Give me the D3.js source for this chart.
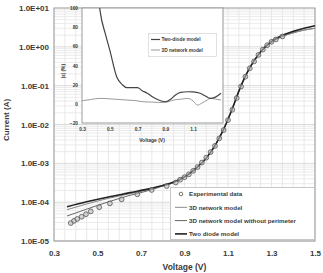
<!DOCTYPE html>
<html>
<head>
<meta charset="utf-8">
<script src="https://cdn.jsdelivr.net/npm/d3@7"></script>
<style>
  body { margin: 0; background: #fff; }
  svg { display: block; font-family: "Liberation Sans", Arial, sans-serif; }
</style>
</head>
<body>
<svg width="323" height="273"></svg>
<script>
// main chart: current vs voltage
var expV = [0.377, 0.392, 0.407, 0.427, 0.447, 0.469, 0.508, 0.557, 0.611, 0.683, 0.749, 0.818,
            0.86, 0.88, 0.90, 0.92, 0.94, 0.96, 0.98, 1.00, 1.02, 1.04, 1.06, 1.08, 1.10, 1.12,
            1.14, 1.16, 1.18, 1.20, 1.22, 1.24, 1.26, 1.28, 1.30, 1.32, 1.35];
var expI = [2.9e-5, 3.3e-5, 3.7e-5, 4.2e-5, 4.9e-5, 5.8e-5, 7.4e-5, 9.3e-5, 1.18e-4, 1.59e-4, 2.06e-4, 2.6e-4,
            3.2e-4, 3.8e-4, 4.4e-4, 5.2e-4, 6.4e-4, 8.0e-4, 1.05e-3, 1.4e-3, 1.95e-3, 2.8e-3, 4.4e-3, 7.2e-3, 0.013, 0.024,
            0.048, 0.095, 0.17, 0.28, 0.42, 0.62, 0.85, 1.1, 1.35, 1.55, 1.85];

var modelV = [0.36, 0.45, 0.55, 0.65, 0.75, 0.80, 0.85, 0.88, 0.92, 0.96, 1.00, 1.04, 1.08, 1.12,
              1.16, 1.20, 1.25, 1.30, 1.35, 1.40, 1.45, 1.50];
var net3dI = [6.4e-5, 9.0e-5, 1.25e-4, 1.65e-4, 2.2e-4, 2.65e-4, 3.2e-4, 3.8e-4, 5.2e-4, 8.0e-4, 1.35e-3, 2.8e-3, 7.5e-3, 0.025,
              0.1, 0.28, 0.72, 1.3, 1.85, 2.3, 2.7, 3.0];
var noPerimI = [4.4e-5, 6.6e-5, 1.02e-4, 1.5e-4, 2.1e-4, 2.6e-4, 3.15e-4, 3.8e-4, 5.2e-4, 8.0e-4, 1.35e-3, 2.8e-3, 7.5e-3, 0.025,
                0.1, 0.28, 0.72, 1.3, 1.85, 2.3, 2.7, 3.0];
var twoDiodeI = [7.6e-5, 1.02e-4, 1.36e-4, 1.76e-4, 2.3e-4, 2.7e-4, 3.3e-4, 3.9e-4, 5.3e-4, 8.1e-4, 1.37e-3, 2.85e-3, 7.6e-3, 0.026,
                 0.1, 0.29, 0.75, 1.38, 1.98, 2.5, 3.0, 3.5];

var yTicks = [1e-5, 1e-4, 1e-3, 1e-2, 1e-1, 1, 10];
var xTicks = [0.3, 0.5, 0.7, 0.9, 1.1, 1.3, 1.5];

// inset: relative error
var errV2d = [0.30, 0.35, 0.40, 0.43, 0.47, 0.50, 0.55, 0.59, 0.62, 0.66, 0.70, 0.73, 0.77, 0.80, 0.84, 0.87, 0.90, 0.94, 0.97, 1.01, 1.06, 1.10, 1.15, 1.19, 1.22, 1.26, 1.30];
var err2d  = [300, 220, 140, 97, 72, 56, 28, 20, 17, 17, 17, 14, 11, 8, 4.7, 3, 2.2, 5, 9, 12, 12.6, 12.5, 11, 8, 5.7, 7, 11];
var errV3d = [0.30, 0.36, 0.43, 0.50, 0.56, 0.62, 0.68, 0.74, 0.80, 0.85, 0.89, 0.93, 0.96, 1.01, 1.06, 1.10, 1.13, 1.16, 1.20, 1.22, 1.26, 1.30];
var err3d  = [3.2, 4.5, 5.7, 5.2, 4.6, 4, 3.4, 2.2, 1.8, 1.5, 1.5, 2.6, 4, 4.8, 5.7, 3, -1.3, 0.5, 4, 5.7, 5, 4];
var insetYTicks = [-20, 0, 20, 40, 60, 80, 100];
var insetXTicks = [0.3, 0.5, 0.7, 0.9, 1.1];

var svg = d3.select("svg");
var txt = "#3a3a3a";

var x = d3.scaleLinear().domain([0.3, 1.5]).range([54, 315]);
var y = d3.scaleLog().domain([1e-5, 10]).range([241, 8]);

// grid
var grid = svg.append("g");
d3.range(0.3, 1.5001, 0.05).forEach(function (v) {
    grid.append("line")
        .attr("x1", x(v)).attr("x2", x(v)).attr("y1", 8).attr("y2", 241)
        .attr("stroke", "#e2e2e2").attr("stroke-width", 0.8);
});
yTicks.slice(0, -1).forEach(function (t) {
    for (var k = 1; k <= 9; k++) {
        grid.append("line")
            .attr("x1", 54).attr("x2", 315).attr("y1", y(t * k)).attr("y2", y(t * k))
            .attr("stroke", k === 1 ? "#d0d0d0" : "#e6e6e6").attr("stroke-width", 0.8);
    }
});

// axes
function expLabel(d) {
    var e = Math.round(Math.log10(d));
    return "1.0E" + (e < 0 ? "-" : "+") + (Math.abs(e) < 10 ? "0" : "") + Math.abs(e);
}
var yAxis = svg.append("g").attr("transform", "translate(54,0)")
    .call(d3.axisLeft(y).tickValues(yTicks).tickFormat(expLabel).tickSize(0).tickPadding(5));
var xAxis = svg.append("g").attr("transform", "translate(0,241)")
    .call(d3.axisBottom(x).tickValues(xTicks).tickFormat(d3.format(".1f")).tickSize(0).tickPadding(9));
[yAxis, xAxis].forEach(function (a) {
    a.select(".domain").remove();
    a.selectAll("text").attr("font-size", 8).attr("font-weight", "bold").attr("fill", txt);
});

svg.append("text").attr("x", 184.5).attr("y", 270).attr("text-anchor", "middle")
    .attr("font-size", 8.5).attr("font-weight", "bold").attr("fill", txt).text("Voltage (V)");
svg.append("text").attr("transform", "translate(9,120) rotate(-90)").attr("text-anchor", "middle")
    .attr("font-size", 8).attr("font-weight", "bold").attr("fill", txt).text("Current (A)");

svg.append("rect").attr("x", 54).attr("y", 8).attr("width", 261).attr("height", 233)
    .attr("fill", "none").attr("stroke", "#999").attr("stroke-width", 1);

// model curves
var line = d3.line().curve(d3.curveMonotoneX).x(function (d) { return x(d[0]); }).y(function (d) { return y(d[1]); });
var curves = [
    { vals: noPerimI, color: "#666", width: 1 },
    { vals: net3dI, color: "#8a8a8a", width: 1 },
    { vals: twoDiodeI, color: "#222", width: 1.6 }
];
curves.forEach(function (c) {
    svg.append("path").datum(d3.zip(modelV, c.vals)).attr("d", line)
        .attr("fill", "none").attr("stroke", c.color).attr("stroke-width", c.width);
});

svg.append("g").selectAll("circle").data(d3.zip(expV, expI)).enter().append("circle")
    .attr("cx", function (d) { return x(d[0]); }).attr("cy", function (d) { return y(d[1]); })
    .attr("r", 2.4).attr("fill", "#bbb").attr("fill-opacity", 0.6).attr("stroke", "#555").attr("stroke-width", 0.8);

// main legend
var leg = svg.append("g");
leg.append("rect").attr("x", 170.5).attr("y", 187.5).attr("width", 144).attr("height", 52)
    .attr("fill", "#fff").attr("stroke", "#bbb").attr("stroke-width", 0.8);
var legItems = [
    { label: "Experimental data", type: "circle" },
    { label: "3D network model", color: "#8a8a8a", width: 1 },
    { label: "3D network model without perimeter", color: "#666", width: 1 },
    { label: "Two diode model", color: "#222", width: 1.6 }
];
legItems.forEach(function (it, i) {
    var ly = 194 + i * 13.3;
    if (it.type === "circle") {
        leg.append("circle").attr("cx", 181).attr("cy", ly).attr("r", 1.8)
            .attr("fill", "#fff").attr("stroke", "#555").attr("stroke-width", 0.8);
    } else {
        leg.append("line").attr("x1", 175).attr("x2", 187).attr("y1", ly).attr("y2", ly)
            .attr("stroke", it.color).attr("stroke-width", it.width);
    }
    leg.append("text").attr("x", 189).attr("y", ly + 2.2).attr("font-size", 6.2).attr("font-weight", "bold")
        .attr("fill", txt).text(it.label);
});

// inset
var ix = d3.scaleLinear().domain([0.3, 1.3]).range([82, 221]);
var iy = d3.scaleLinear().domain([-20, 100]).range([123, 8]);
var inset = svg.append("g");
inset.append("rect").attr("x", 82).attr("y", 8).attr("width", 141).attr("height", 115)
    .attr("fill", "#fff").attr("stroke", "#999").attr("stroke-width", 1);
inset.append("clipPath").attr("id", "iclip").append("rect")
    .attr("x", 82).attr("y", 8).attr("width", 141).attr("height", 115);

var iyAxis = inset.append("g").attr("transform", "translate(82,0)")
    .call(d3.axisLeft(iy).tickValues(insetYTicks).tickFormat(d3.format("d")).tickSize(0).tickPadding(4));
var ixAxis = inset.append("g").attr("transform", "translate(0,123)")
    .call(d3.axisBottom(ix).tickValues(insetXTicks).tickFormat(d3.format(".1f")).tickSize(0).tickPadding(5));
[iyAxis, ixAxis].forEach(function (a) {
    a.select(".domain").remove();
    a.selectAll("text").attr("font-size", 4.8).attr("font-weight", "bold").attr("fill", txt);
});
inset.append("text").attr("x", 152).attr("y", 142).attr("text-anchor", "middle")
    .attr("font-size", 5).attr("font-weight", "bold").attr("fill", txt).text("Voltage (V)");
inset.append("text").attr("transform", "translate(65,71) rotate(-90)").attr("text-anchor", "middle")
    .attr("font-size", 5).attr("font-weight", "bold").attr("fill", txt).text("|ε| (%)");

var iline = d3.line().curve(d3.curveMonotoneX).x(function (d) { return ix(d[0]); }).y(function (d) { return iy(d[1]); });
var ilines = inset.append("g").attr("clip-path", "url(#iclip)");
ilines.append("path").datum(d3.zip(errV3d, err3d)).attr("d", iline)
    .attr("fill", "none").attr("stroke", "#999").attr("stroke-width", 1);
ilines.append("path").datum(d3.zip(errV2d, err2d)).attr("d", iline)
    .attr("fill", "none").attr("stroke", "#444").attr("stroke-width", 1.2);

var ileg = inset.append("g");
ileg.append("rect").attr("x", 148.5).attr("y", 33.5).attr("width", 68).attr("height", 23)
    .attr("fill", "#fff").attr("stroke", "#ccc").attr("stroke-width", 0.6);
[{ label: "Two-diode model", color: "#444", width: 1.2 }, { label: "3D network model", color: "#999", width: 1 }]
    .forEach(function (it, i) {
        var ly = 39.5 + i * 10.5;
        ileg.append("line").attr("x1", 151).attr("x2", 160).attr("y1", ly).attr("y2", ly)
            .attr("stroke", it.color).attr("stroke-width", it.width);
        ileg.append("text").attr("x", 161.5).attr("y", ly + 1.8).attr("font-size", 4.8).attr("font-weight", "bold")
            .attr("fill", txt).text(it.label);
    });
</script>
</body>
</html>
